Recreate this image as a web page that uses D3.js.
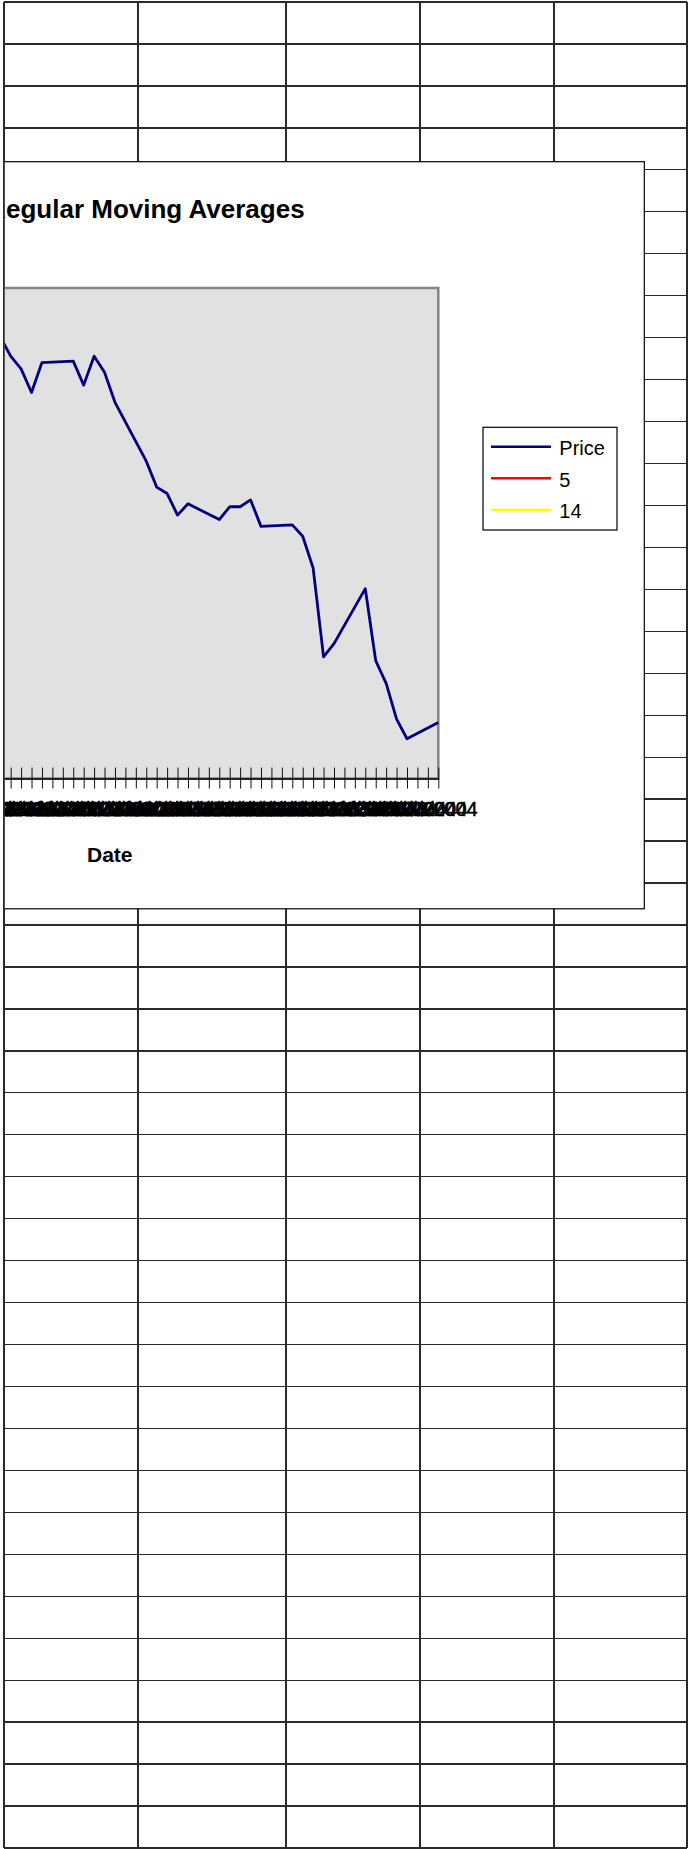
<!DOCTYPE html>
<html lang="en">
<head>
  <meta charset="UTF-8">
  <title>Regular Moving Averages</title>
  <script src="https://d3js.org/d3.v7.min.js"></script>
  <style>
    body {
      margin: 0;
      background-color: #fff;
      font-family: "Liberation Sans", Arial, sans-serif;
    }
    svg {
      display: block;
    }
  </style>
</head>
<body>
  <svg id="sheet" width="688" height="1849"></svg>

  <script>
    // Data (trading days only)
    const dates = [
      "2004-01-26", "2004-01-27", "2004-01-28", "2004-01-29", "2004-01-30",
      "2004-02-02", "2004-02-03", "2004-02-04", "2004-02-05", "2004-02-06",
      "2004-02-09", "2004-02-10", "2004-02-11", "2004-02-12", "2004-02-13",
      "2004-02-16", "2004-02-17", "2004-02-18", "2004-02-19", "2004-02-20",
      "2004-02-23", "2004-02-24", "2004-02-25", "2004-02-26", "2004-02-27",
      "2004-03-01", "2004-03-02", "2004-03-03", "2004-03-04", "2004-03-05",
      "2004-03-08"
    ];
    const price = [
      29.01, 28.61, 28.35, 27.87, 28.48,
      28.51, 28.02, 28.61, 28.28, 27.67,
      26.47, 25.94, 25.81, 25.37, 25.60,
      25.28, 25.54, 25.54, 25.68, 25.14,
      25.17, 24.94, 24.29, 22.48, 22.75,
      23.87, 22.40, 21.94, 21.21, 20.81,
      21.14
    ];
    // moving average series are listed in the legend but show no line
    const ma5 = [];
    const ma14 = [];

    const seriesNames = ["Price", "5", "14"];
    const seriesColors = ["#000080", "#ff0000", "#ffff00"];

    const axisStart = "2004-01-05";
    const axisEnd = "2004-03-08";
    const yDomain = [20, 30];

    const titleText = "Regular Moving Averages";
    const xTitle = "Date";

    // spreadsheet grid behind the chart
    const colEdges = [4, 138, 286, 420, 554, 687];
    const rowCount = 44;

    const svg = d3.select("#sheet");
    const parse = d3.timeParse("%Y-%m-%d");

    const rowY = d3.scaleLinear().domain([0, rowCount]).range([2, 1848]);
    const grid = svg.append("g")
      .attr("stroke", "#2a2a2a")
      .attr("stroke-width", 1.3)
      .attr("shape-rendering", "crispEdges");

    grid.selectAll("line.row")
      .data(d3.range(rowCount + 1))
      .join("line")
      .attr("class", "row")
      .attr("x1", colEdges[0]).attr("x2", colEdges[colEdges.length - 1])
      .attr("y1", d => rowY(d)).attr("y2", d => rowY(d));

    grid.selectAll("line.col")
      .data(colEdges)
      .join("line")
      .attr("class", "col")
      .attr("x1", d => d).attr("x2", d => d)
      .attr("y1", rowY(0)).attr("y2", rowY(rowCount));

    // chart object, partly scrolled off to the left
    svg.append("clipPath").attr("id", "sheetClip")
      .append("rect").attr("x", 4.5).attr("y", 0).attr("width", 684).attr("height", 1849);

    const chart = svg.append("g").attr("clip-path", "url(#sheetClip)");

    const box = { left: -352.5, top: 161.7, right: 644.3, bottom: 908.8 };
    const plot = { left: -218.8, top: 288, right: 438.3, bottom: 778.5 };

    chart.append("rect")
      .attr("x", box.left).attr("y", box.top)
      .attr("width", box.right - box.left).attr("height", box.bottom - box.top)
      .attr("fill", "#fff").attr("stroke", "#000").attr("stroke-width", 1.2);

    chart.append("text")
      .attr("x", (box.left + box.right) / 2)
      .attr("y", 217.5)
      .attr("text-anchor", "middle")
      .style("font-size", "26px")
      .style("font-weight", "bold")
      .text(titleText);

    const x = d3.scaleTime()
      .domain([parse(axisStart), parse(axisEnd)])
      .range([plot.left, plot.right]);
    const y = d3.scaleLinear().domain(yDomain).range([plot.bottom, plot.top]);

    chart.append("rect")
      .attr("x", plot.left).attr("y", plot.top)
      .attr("width", plot.right - plot.left).attr("height", plot.bottom - plot.top)
      .attr("fill", "#e1e1e1").attr("stroke", "#858585").attr("stroke-width", 2.5);

    const data = dates.map((d, i) => ({ date: parse(d), value: price[i] }));

    const line = d3.line().x(d => x(d.date)).y(d => y(d.value));

    chart.append("path")
      .datum(data)
      .attr("fill", "none")
      .attr("stroke", seriesColors[0])
      .attr("stroke-width", 2.8)
      .attr("stroke-linejoin", "round")
      .attr("d", line);

    [ma5, ma14].forEach((s, i) => {
      if (!s.length) return;
      chart.append("path")
        .datum(s.map((v, j) => ({ date: parse(dates[j]), value: v })))
        .attr("fill", "none")
        .attr("stroke", seriesColors[i + 1])
        .attr("stroke-width", 2.6)
        .attr("d", line);
    });

    // daily category ticks crossing the axis
    const xAxis = chart.append("g")
      .attr("transform", `translate(0,${plot.bottom})`)
      .call(d3.axisBottom(x)
        .ticks(d3.timeDay.every(1))
        .tickSizeInner(10)
        .tickSizeOuter(0)
        .tickFormat(d3.timeFormat("%-m/%-d/%Y")));

    xAxis.select(".domain").attr("stroke", "#000").attr("stroke-width", 1.6);
    xAxis.selectAll(".tick line").attr("y1", -11).attr("stroke", "#111");
    xAxis.selectAll(".tick text")
      .attr("y", 23.5)
      .attr("fill", "#000")
      .attr("stroke", "#000")
      .attr("stroke-width", 0.5)
      .style("font-size", "20px")
      .style("font-family", "'Liberation Sans', Arial, sans-serif");

    chart.append("text")
      .attr("x", (plot.left + plot.right) / 2)
      .attr("y", 861.7)
      .attr("text-anchor", "middle")
      .style("font-size", "21px")
      .style("font-weight", "bold")
      .text(xTitle);

    // legend
    const legend = chart.append("g");
    legend.append("rect")
      .attr("x", 483).attr("y", 427.3)
      .attr("width", 134).attr("height", 102.7)
      .attr("fill", "#fff").attr("stroke", "#000").attr("stroke-width", 1.2);

    const rows = legend.selectAll("g.item")
      .data(seriesNames)
      .join("g")
      .attr("class", "item")
      .attr("transform", (d, i) => `translate(0,${446.7 + i * 31.6})`);

    rows.append("line")
      .attr("x1", 491).attr("x2", 551)
      .attr("stroke", (d, i) => seriesColors[i])
      .attr("stroke-width", 2.4);

    rows.append("text")
      .attr("x", 559.3)
      .attr("y", 8.5)
      .style("font-size", "20px")
      .text(d => d);

    // sheet's left border sits over the clipped chart
    svg.append("line")
      .attr("x1", colEdges[0]).attr("x2", colEdges[0])
      .attr("y1", rowY(0)).attr("y2", rowY(rowCount))
      .attr("stroke", "#2a2a2a").attr("stroke-width", 1.3);
  </script>
</body>
</html>
